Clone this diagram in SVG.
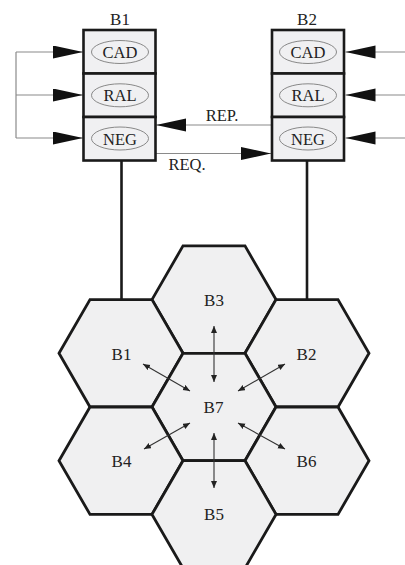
<svg xmlns="http://www.w3.org/2000/svg" xmlns:xlink="http://www.w3.org/1999/xlink" width="405" height="565" viewBox="0 0 405 565">
<style>
  .lbl{font-family:"Liberation Serif","Times New Roman",serif;font-size:16.5px;fill:#222;text-anchor:middle}
  .hl{font-family:"Liberation Serif","Times New Roman",serif;font-size:17px;fill:#222;text-anchor:middle}
  .cell{fill:#f0f0f2;stroke:#1a1a1a;stroke-width:2.6}
  .ell{fill:none;stroke:#888;stroke-width:1}
  .hex{fill:#f0f0f1;stroke:#1a1a1a;stroke-width:2.8;stroke-linejoin:miter}
  .gl{stroke:#8a8a8a;stroke-width:1.2;fill:none}
  .bl{stroke:#1a1a1a;stroke-width:2.6;fill:none}
  .sa{stroke:#333;stroke-width:1.1;fill:none;marker-start:url(#sm);marker-end:url(#sm)}
</style>
<defs>
  <marker id="big" markerUnits="userSpaceOnUse" markerWidth="32" markerHeight="14" refX="30" refY="6.5" orient="auto">
    <path d="M0,0 L30,6.5 L0,13 z" fill="#111"/>
  </marker>
  <marker id="sm" markerUnits="userSpaceOnUse" markerWidth="8" markerHeight="8" refX="7" refY="3" orient="auto-start-reverse">
    <path d="M0,0 L7,3 L0,6 z" fill="#222"/>
  </marker>
  <polygon id="hexshape" points="-62,0 -31,-53.7 31,-53.7 62,0 31,53.7 -31,53.7"/>
</defs>

<g id="connectors">
  <line class="bl" x1="121.5" y1="160.5" x2="121.5" y2="299.6"/>
  <line class="bl" x1="307" y1="160.5" x2="307" y2="299.6"/>
  <polyline class="gl" points="16,52 16,138"/>
  <line class="gl" x1="16" y1="52" x2="83" y2="52" marker-end="url(#big)"/>
  <line class="gl" x1="16" y1="95" x2="83" y2="95" marker-end="url(#big)"/>
  <line class="gl" x1="16" y1="138" x2="83" y2="138" marker-end="url(#big)"/>
  <line class="gl" x1="405" y1="52" x2="345.5" y2="52" marker-end="url(#big)"/>
  <line class="gl" x1="405" y1="95" x2="345.5" y2="95" marker-end="url(#big)"/>
  <line class="gl" x1="405" y1="138" x2="345.5" y2="138" marker-end="url(#big)"/>
  <line class="gl" x1="272" y1="125" x2="156" y2="125" marker-end="url(#big)"/>
  <line class="gl" x1="155.5" y1="153.5" x2="271" y2="153.5" marker-end="url(#big)"/>
  <text class="lbl" x="222" y="121">REP.</text>
  <text class="lbl" x="187" y="170">REQ.</text>
</g>

<g id="B1">
  <text class="hl" x="120" y="25">B1</text>
  <rect class="cell" x="83.5" y="30" width="72" height="43.5"/>
  <rect class="cell" x="83.5" y="73.5" width="72" height="43.5"/>
  <rect class="cell" x="83.5" y="117" width="72" height="43.5"/>
  <ellipse class="ell" cx="120" cy="52" rx="28.5" ry="11.5"/>
  <ellipse class="ell" cx="120" cy="95.3" rx="28.5" ry="11.5"/>
  <ellipse class="ell" cx="120" cy="138.5" rx="28.5" ry="11.5"/>
  <text class="lbl" x="120" y="58">CAD</text>
  <text class="lbl" x="120" y="101.3">RAL</text>
  <text class="lbl" x="120" y="144.5">NEG</text>
</g>

<g id="B2">
  <text class="hl" x="307" y="25">B2</text>
  <rect class="cell" x="272" y="30" width="72" height="43.5"/>
  <rect class="cell" x="272" y="73.5" width="72" height="43.5"/>
  <rect class="cell" x="272" y="117" width="72" height="43.5"/>
  <ellipse class="ell" cx="308" cy="52" rx="28.5" ry="11.5"/>
  <ellipse class="ell" cx="308" cy="95.3" rx="28.5" ry="11.5"/>
  <ellipse class="ell" cx="308" cy="138.5" rx="28.5" ry="11.5"/>
  <text class="lbl" x="308" y="58">CAD</text>
  <text class="lbl" x="308" y="101.3">RAL</text>
  <text class="lbl" x="308" y="144.5">NEG</text>
</g>

<g id="cells">
  <g id="hex-B3"><use href="#hexshape" class="hex" transform="translate(214,299.6)"/><text class="hl" x="214" y="306">B3</text></g>
  <g id="hex-B1"><use href="#hexshape" class="hex" transform="translate(121,353.3)"/><text class="hl" x="121.5" y="360">B1</text></g>
  <g id="hex-B2"><use href="#hexshape" class="hex" transform="translate(307,353.3)"/><text class="hl" x="306.5" y="360">B2</text></g>
  <g id="hex-B7"><use href="#hexshape" class="hex" transform="translate(214,407)"/><text class="hl" x="213.5" y="413">B7</text></g>
  <g id="hex-B4"><use href="#hexshape" class="hex" transform="translate(121,460.7)"/><text class="hl" x="121.5" y="467">B4</text></g>
  <g id="hex-B6"><use href="#hexshape" class="hex" transform="translate(307,460.7)"/><text class="hl" x="306.5" y="467">B6</text></g>
  <g id="hex-B5"><use href="#hexshape" class="hex" transform="translate(214,514.4)"/><text class="hl" x="214" y="520">B5</text></g>
</g>

<g id="links">
  <line class="sa" x1="214" y1="326" x2="214" y2="382"/>
  <line class="sa" x1="214" y1="433" x2="214" y2="488"/>
  <line class="sa" x1="143" y1="364" x2="190" y2="391"/>
  <line class="sa" x1="285" y1="364" x2="238" y2="391"/>
  <line class="sa" x1="190" y1="423" x2="144" y2="449"/>
  <line class="sa" x1="238" y1="423" x2="285" y2="449"/>
</g>
</svg>
